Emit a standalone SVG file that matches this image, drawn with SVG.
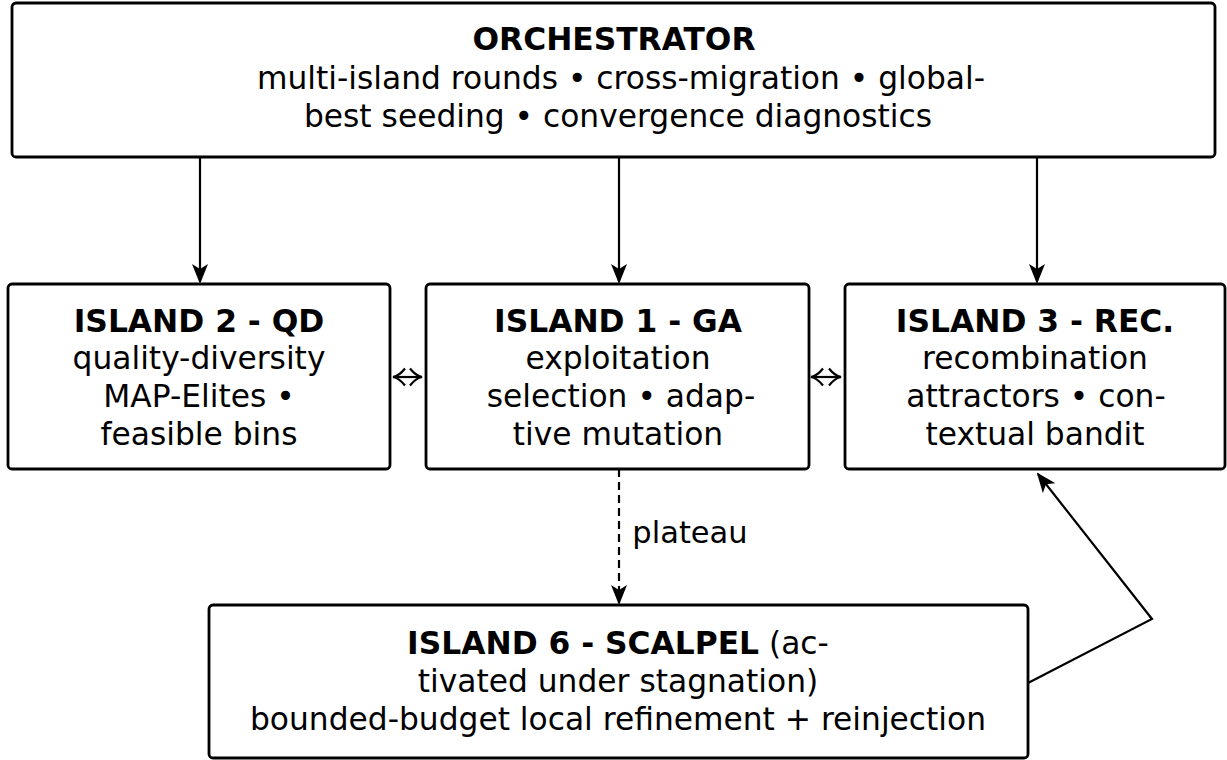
<svg xmlns="http://www.w3.org/2000/svg" width="1227" height="760" viewBox="0 0 1227 760">
<style>
.box{fill:#fff;stroke:#000;stroke-width:2.8}
text{font-family:"DejaVu Sans","Liberation Sans",sans-serif;font-size:31.3px;fill:#000;text-anchor:middle}
.b{font-weight:bold}
.c{fill:none;stroke:#000;stroke-width:2.2}
</style>
<defs>
<marker id="ah" viewBox="0 0 20 16" refX="18" refY="8" markerWidth="20" markerHeight="16" markerUnits="userSpaceOnUse" orient="auto">
<path d="M0,0 L20,8 L0,16 L5,8 Z" fill="#000"/>
</marker>
<marker id="ch" viewBox="0 0 14 20" refX="13" refY="10" markerWidth="14" markerHeight="20" markerUnits="userSpaceOnUse" orient="auto-start-reverse">
<path d="M1,1.5 Q7,9 13,10 Q7,11 1,18.5" fill="none" stroke="#000" stroke-width="2.2"/>
</marker>
</defs>
<g id="connectors">
<line class="c" x1="200" y1="157" x2="200" y2="282" marker-end="url(#ah)"/>
<line class="c" x1="619" y1="157" x2="619" y2="282" marker-end="url(#ah)"/>
<line class="c" x1="1037" y1="157" x2="1037" y2="282" marker-end="url(#ah)"/>
<line class="c" x1="393" y1="377" x2="422" y2="377" marker-start="url(#ch)" marker-end="url(#ch)"/>
<line class="c" x1="811" y1="377" x2="841" y2="377" marker-start="url(#ch)" marker-end="url(#ch)"/>
<line class="c" x1="619" y1="469" x2="619" y2="603" stroke-dasharray="8,5" marker-end="url(#ah)"/>
<text x="690" y="543" style="font-size:30.5px">plateau</text>
<polyline class="c" points="1028,683 1152,619 1038,474" marker-end="url(#ah)"/>
</g>
<g id="orchestrator">
<rect class="box" x="12" y="3" width="1203" height="154" rx="4"/>
<text class="b" x="614" y="50">ORCHESTRATOR</text>
<text x="621" y="89">multi-island rounds • cross-migration • global-</text>
<text x="618" y="127">best seeding • convergence diagnostics</text>
</g>
<g id="island2">
<rect class="box" x="8" y="284" width="382" height="185" rx="4"/>
<text class="b" x="199" y="332">ISLAND 2 - QD</text>
<text x="199" y="369">quality-diversity</text>
<text x="199" y="407">MAP-Elites •</text>
<text x="199" y="445">feasible bins</text>
</g>
<g id="island1">
<rect class="box" x="426" y="284" width="383" height="185" rx="4"/>
<text class="b" x="618" y="332">ISLAND 1 - GA</text>
<text x="618" y="369">exploitation</text>
<text x="621" y="407">selection • adap-</text>
<text x="618" y="445">tive mutation</text>
</g>
<g id="island3">
<rect class="box" x="845" y="284" width="380" height="185" rx="4"/>
<text class="b" x="1035" y="332">ISLAND 3 - REC.</text>
<text x="1035" y="369">recombination</text>
<text x="1036" y="407">attractors • con-</text>
<text x="1035" y="445">textual bandit</text>
</g>
<g id="island6">
<rect class="box" x="209" y="605" width="819" height="153" rx="4"/>
<text x="618" y="654"><tspan class="b">ISLAND 6 - SCALPEL</tspan> (ac-</text>
<text x="618" y="692">tivated under stagnation)</text>
<text x="618" y="730">bounded-budget local refinement + reinjection</text>
</g>
</svg>
